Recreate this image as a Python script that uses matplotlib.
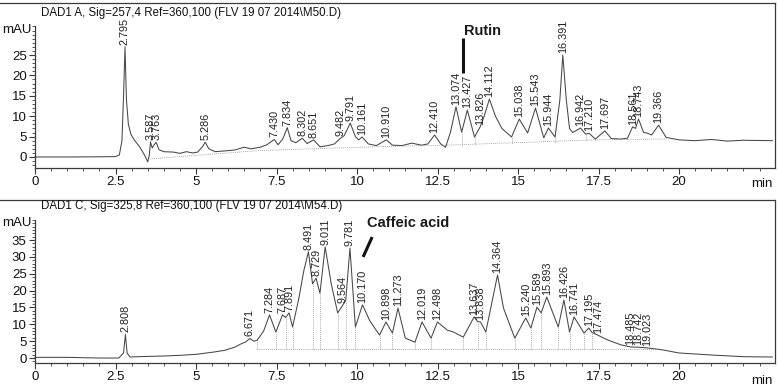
import matplotlib.pyplot as plt
from matplotlib.ticker import MultipleLocator

plt.rcParams['font.family'] = ['Liberation Sans', 'DejaVu Sans']

# ---- top chromatogram (DAD1 A, 257 nm) ----
top_title = "DAD1 A, Sig=257,4 Ref=360,100 (FLV 19 07 2014\\M50.D)"
top_t = [0.0, 1.0, 2.0, 2.5, 2.62, 2.70, 2.75, 2.795, 2.84, 2.90, 2.98, 3.1, 3.25, 3.40,
         3.50, 3.55, 3.587, 3.64, 3.70, 3.763, 3.85, 4.0, 4.3, 4.5, 4.7, 4.9, 5.05, 5.2,
         5.286, 5.4, 5.6, 5.9, 6.2, 6.5, 6.7, 7.0, 7.2, 7.430, 7.55, 7.70, 7.834, 7.95,
         8.1, 8.302, 8.45, 8.651, 8.85, 9.1, 9.3, 9.482, 9.6, 9.791, 9.95, 10.05, 10.161,
         10.35, 10.6, 10.910, 11.1, 11.4, 11.7, 12.0, 12.2, 12.410, 12.6, 12.75, 12.9,
         13.074, 13.25, 13.427, 13.65, 13.826, 13.95, 14.112, 14.3, 14.5, 14.8, 15.038,
         15.3, 15.543, 15.8, 15.944, 16.15, 16.3, 16.391, 16.5, 16.6, 16.7, 16.942, 17.1,
         17.210, 17.4, 17.697, 17.9, 18.2, 18.4, 18.561, 18.65, 18.743, 18.9, 19.0, 19.15,
         19.366, 19.6, 20.0, 20.5, 21.0, 21.5, 22.0, 22.9]
top_mau = [0.0, 0.0, 0.05, 0.1, 0.5, 4.0, 15.0, 27.0, 14.0, 8.0, 5.5, 4.0, 2.5, 0.5,
           -1.2, 0.5, 3.7, 2.2, 3.0, 3.6, 1.8, 1.3, 1.2, 0.9, 1.3, 1.0, 1.2, 2.5,
           3.6, 2.0, 1.3, 1.5, 1.7, 2.4, 2.0, 2.4, 3.0, 4.3, 3.0, 4.5, 7.2, 4.0,
           3.5, 4.6, 3.3, 4.2, 2.5, 2.8, 3.2, 4.6, 5.2, 8.3, 5.0, 4.2, 4.9,
           3.2, 2.8, 4.2, 2.9, 2.8, 3.4, 2.9, 3.2, 5.4, 3.2, 2.4, 6.0,
           12.3, 6.1, 11.5, 4.9, 7.4, 10.0, 14.2, 10.0, 7.0, 4.9, 9.3,
           5.9, 12.0, 4.7, 7.1, 4.9, 14.0, 25.0, 14.0, 7.0, 6.0, 7.1, 5.6,
           5.8, 4.4, 6.4, 4.5, 4.4, 4.6, 7.4, 7.0, 9.3, 6.0, 5.9, 5.4,
           7.8, 4.8, 4.2, 4.0, 4.3, 3.9, 4.1, 4.0]
top_peaks = [2.795, 3.587, 3.763, 5.286, 7.430, 7.834, 8.302, 8.651, 9.482, 9.791,
             10.161, 10.910, 12.410, 13.074, 13.427, 13.826, 14.112, 15.038, 15.543,
             15.944, 16.391, 16.942, 17.210, 17.697, 18.561, 18.743, 19.366]
top_base_t = [3.5, 7.0, 10.5, 12.75, 17.4, 19.6]
top_base_mau = [-0.5, 1.6, 2.5, 2.9, 4.2, 4.4]
top_drops = [13.25, 13.65, 14.8, 16.15, 17.1, 17.4, 18.4]
top_drop_base = [3.0, 3.1, 3.4, 3.7, 4.1, 4.2, 4.3]
top_yticks = [0, 5, 10, 15, 20, 25]

# ---- bottom chromatogram (DAD1 C, 325 nm) ----
bot_title = "DAD1 C, Sig=325,8 Ref=360,100 (FLV 19 07 2014\\M54.D)"
bot_t = [0.0, 1.0, 2.0, 2.6, 2.75, 2.808, 2.86, 2.95, 3.2, 3.6, 4.0, 4.5, 5.0, 5.5, 5.9,
         6.2, 6.4, 6.55, 6.671, 6.8, 6.9, 7.1, 7.284, 7.48, 7.687, 7.78, 7.891, 8.0, 8.2,
         8.35, 8.491, 8.62, 8.729, 8.85, 9.011, 9.2, 9.4, 9.564, 9.65, 9.781, 9.95,
         10.170, 10.4, 10.7, 10.898, 11.1, 11.273, 11.5, 11.8, 12.019, 12.3, 12.498,
         12.8, 13.0, 13.3, 13.637, 13.75, 13.838, 14.0, 14.364, 14.55, 14.9, 15.240,
         15.4, 15.589, 15.72, 15.893, 16.25, 16.426, 16.6, 16.741, 17.05, 17.195, 17.3,
         17.474, 17.8, 18.2, 18.485, 18.742, 19.023, 19.5, 20.0, 21.0, 22.0, 22.9]
bot_mau = [0.2, 0.2, 0.0, 0.0, 1.5, 7.0, 1.5, 0.3, 0.4, 0.5, 0.6, 0.8, 1.1, 1.7, 2.3,
           3.2, 4.2, 4.8, 5.8, 5.0, 5.3, 8.0, 12.8, 7.7, 12.8, 12.0, 13.4, 9.2, 18.0,
           26.0, 31.5, 22.0, 23.7, 19.2, 33.0, 22.0, 13.4, 15.8, 17.0, 32.6, 9.2,
           15.8, 11.0, 6.8, 10.7, 7.4, 14.8, 5.9, 4.7, 10.7, 5.9, 10.7,
           8.3, 7.7, 6.2, 12.2, 10.8, 10.7, 7.7, 24.6, 14.8, 5.9, 11.9,
           8.9, 15.1, 13.4, 18.1, 9.2, 17.2, 7.7, 12.2, 7.4, 8.9, 7.6,
           6.8, 5.3, 3.9, 3.3, 3.2, 3.0, 2.4, 1.5, 0.9, 0.4, 0.3]
bot_peaks = [2.808, 6.671, 7.284, 7.687, 7.891, 8.491, 8.729, 9.011, 9.564, 9.781,
             10.170, 10.898, 11.273, 12.019, 12.498, 13.637, 13.838, 14.364, 15.240,
             15.589, 15.893, 16.426, 16.741, 17.195, 17.474, 18.485, 18.742, 19.023]
bot_base_t = [6.9, 19.3]
bot_base_mau = [2.7, 2.7]
bot_drops = [6.9, 7.48, 7.78, 8.0, 8.62, 8.85, 9.4, 9.65, 9.95, 10.7, 11.1, 11.8, 12.3,
             13.3, 13.75, 14.0, 14.9, 15.4, 15.72, 16.25, 16.6, 17.05, 17.3]
bot_drop_base = [2.7] * len(bot_drops)
bot_yticks = [0, 5, 10, 15, 20, 25, 30, 35]

xticks = [0, 2.5, 5, 7.5, 10, 12.5, 15, 17.5, 20]
xticklabels = ["0", "2.5", "5", "7.5", "10", "12.5", "15", "17.5", "20"]

# compound annotations: name, text position, line start, line end
rutin = ("Rutin", (13.9, 31.0), (13.29, 29.2), (13.29, 20.5))
caffeic = ("Caffeic acid", (10.3, 40.0), (10.47, 35.9), (10.19, 30.0))

ink = "#3a3a3a"
px_per_min = 32.2
fig = plt.figure(figsize=(7.78, 3.89), dpi=100)


def panel(rect, ylim, ytop, yticks, t, mau, peaks, base_t, base_mau, drops, drop_base,
          title, title_y):
    ax = fig.add_axes(rect)
    ax.plot(t, mau, color="#474747", lw=0.75)
    ax.plot(base_t, base_mau, color="#8a8a8a", lw=0.6, ls=(0, (1, 1.5)))
    lookup = dict(zip(t, mau))
    for d, b in zip(drops, drop_base):
        ax.plot([d, d], [b, lookup[d]], color="#8a8a8a", lw=0.6, ls=(0, (1, 1.5)))
    for p in peaks:
        ax.annotate(f"{p:.3f}", (p, lookup[p]), xytext=(0, 1.5), textcoords="offset points",
                    rotation=90, ha="center", va="bottom", fontsize=7.8, color="#222222")
    xmax = 740 / px_per_min
    ax.set_xlim(-35 / px_per_min, xmax)
    ax.set_ylim(*ylim)
    ax.spines["left"].set_position(("data", 0))
    ax.spines["left"].set_bounds(ylim[0], ytop)
    ax.spines["bottom"].set_bounds(0, xmax)
    for s in ax.spines.values():
        s.set_color(ink)
        s.set_linewidth(0.9)
    ax.set_xticks(xticks)
    ax.set_xticklabels(xticklabels)
    ax.set_xticks([i * 0.5 for i in range(0, 46)], minor=True)
    ax.set_yticks(yticks)
    ax.set_yticks(list(range(int(ylim[0]), int(ytop) + 1)), minor=True)
    ax.tick_params(which="major", length=4, width=0.8, color=ink, labelsize=9.5,
                   labelcolor="#111111", pad=2)
    ax.tick_params(which="minor", length=2, width=0.6, color=ink)
    ax.text(0.247, title_y, title, transform=ax.transAxes, ha="center", va="center",
            fontsize=8.3, color="#111111")
    return ax


ax1 = panel([0.0, 0.5681, 775 / 778, 0.4242], (-2.7, 37.75), 32, top_yticks, top_t, top_mau,
            top_peaks, top_base_t, top_base_mau, top_drops, top_drop_base, top_title, 0.94)
ax2 = panel([0.0, 0.0668, 775 / 778, 0.4191], (-1.48, 46.9), 41, bot_yticks, bot_t, bot_mau,
            bot_peaks, bot_base_t, bot_base_mau, bot_drops, bot_drop_base, bot_title, 0.965)

fig.text(2 / 778, 1 - 30 / 389, "mAU", fontsize=9.5, va="center", ha="left", color="#111111")
fig.text(2 / 778, 1 - 223 / 389, "mAU", fontsize=9.5, va="center", ha="left", color="#111111")
fig.text(773 / 778, 1 - 184 / 389, "min", fontsize=9.5, va="center", ha="right", color="#111111")
fig.text(773 / 778, 1 - 381 / 389, "min", fontsize=9.5, va="center", ha="right", color="#111111")

for ax, (name, txy, p0, p1), ha in [(ax1, rutin, "center"), (ax2, caffeic, "left")]:
    ax.text(txy[0], txy[1], name, fontsize=10.5, fontweight="bold", ha=ha, va="center",
            color="#1a1a1a")
    ax.plot([p0[0], p1[0]], [p0[1], p1[1]], color="#111111", lw=2.2, solid_capstyle="butt")

fig.savefig("out.png", dpi=100, facecolor="white")
